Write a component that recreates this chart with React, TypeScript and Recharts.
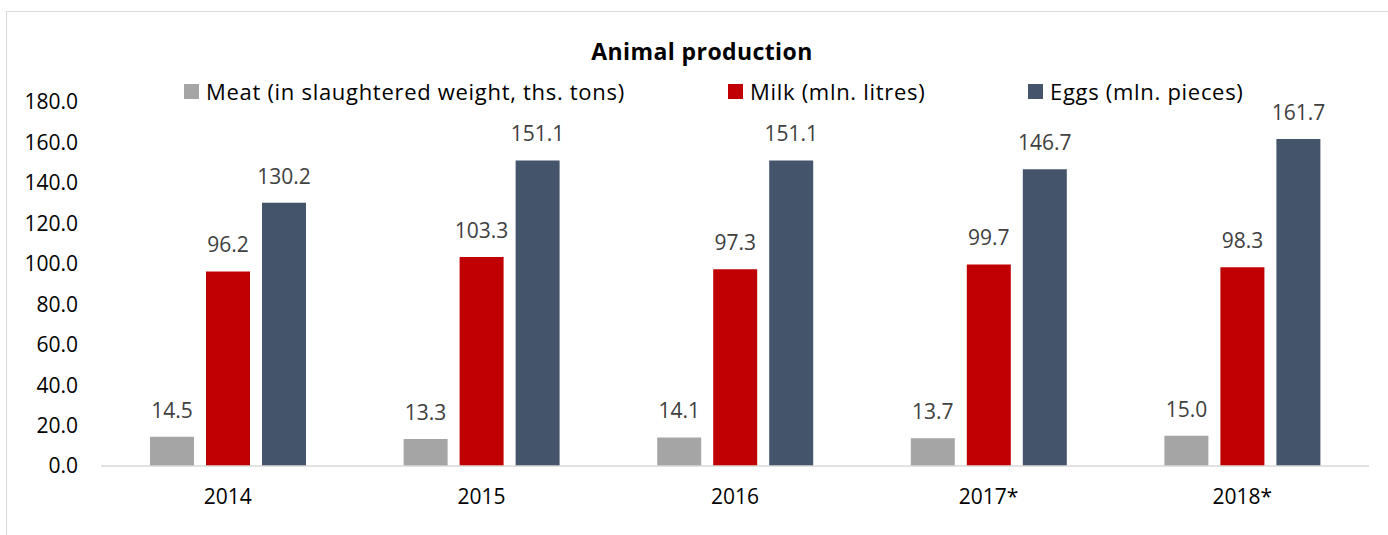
import { BarChart, Bar, XAxis, YAxis, Legend, LabelList } from 'recharts'

const YEARS = ['2014', '2015', '2016', '2017*', '2018*']
const MEAT = [14.5, 13.3, 14.1, 13.7, 15.0]
const MILK = [96.2, 103.3, 97.3, 99.7, 98.3]
const EGGS = [130.2, 151.1, 151.1, 146.7, 161.7]
const Y_TICKS = [0, 20, 40, 60, 80, 100, 120, 140, 160, 180]

const SERIES = [
  { key: 'meat', name: 'Meat (in slaughtered weight, ths. tons)', color: '#a5a5a5', left: 184 },
  { key: 'milk', name: 'Milk (mln. litres)', color: '#c00000', left: 728 },
  { key: 'eggs', name: 'Eggs (mln. pieces)', color: '#44546a', left: 1028 },
]

const data = YEARS.map((year, i) => ({ year, meat: MEAT[i], milk: MILK[i], eggs: EGGS[i] }))

const FONT = '"Open Sans", "Noto Sans", sans-serif'
const fmt = (v: any) => Number(v).toFixed(1)

function LegendRow() {
  return (
    <div style={{ position: 'relative', height: 30, width: 1388 }}>
      {SERIES.map(s => (
        <div key={s.key} style={{
          position: 'absolute', left: s.left, top: 0, height: 30,
          display: 'flex', alignItems: 'center', whiteSpace: 'nowrap',
        }}>
          <span style={{ width: 15, height: 15, background: s.color, marginRight: 7, display: 'inline-block' }} />
          <span style={{ fontSize: 22, letterSpacing: 0.7, color: '#000', lineHeight: '30px' }}>{s.name}</span>
        </div>
      ))}
    </div>
  )
}

export default function App() {
  return (
    <div style={{
      position: 'absolute', left: 0, top: 0, width: 1388, height: 535,
      overflow: 'hidden', background: '#fff', fontFamily: FONT,
    }}>
      <div style={{
        position: 'absolute', left: 6, top: 11, width: 1400, height: 600,
        border: '1px solid #d9d9d9', boxSizing: 'border-box',
      }} />
      <div style={{
        position: 'absolute', left: 0, top: 36, width: 1404, textAlign: 'center',
        fontSize: 23, letterSpacing: 0.4, fontWeight: 700, lineHeight: '30px', color: '#000',
      }}>
        Animal production
      </div>
      <BarChart width={1388} height={535} data={data} barSize={44} barGap={12}
        margin={{ top: 72, right: 19, bottom: 29, left: 0 }}>
        <XAxis dataKey="year" height={40} tickLine={false} tickSize={0} tickMargin={23}
          axisLine={{ stroke: '#d9d9d9', strokeWidth: 1.5 }}
          tick={{ fontSize: 21, fill: '#000' }} />
        <YAxis width={101} domain={[0, 180]} ticks={Y_TICKS} interval={0}
          axisLine={false} tickLine={false} tickSize={0} tickMargin={23}
          tickFormatter={fmt} tick={{ fontSize: 21, fill: '#000' }} />
        <Legend verticalAlign="top" height={30} wrapperStyle={{ top: 76, left: 0 }}
          content={() => <LegendRow />} />
        {SERIES.map(s => (
          <Bar key={s.key} dataKey={s.key} name={s.name} fill={s.color} isAnimationActive={false}>
            <LabelList dataKey={s.key} position="top" offset={19} formatter={fmt}
              fill="#404040" fontSize={21} />
          </Bar>
        ))}
      </BarChart>
    </div>
  )
}
